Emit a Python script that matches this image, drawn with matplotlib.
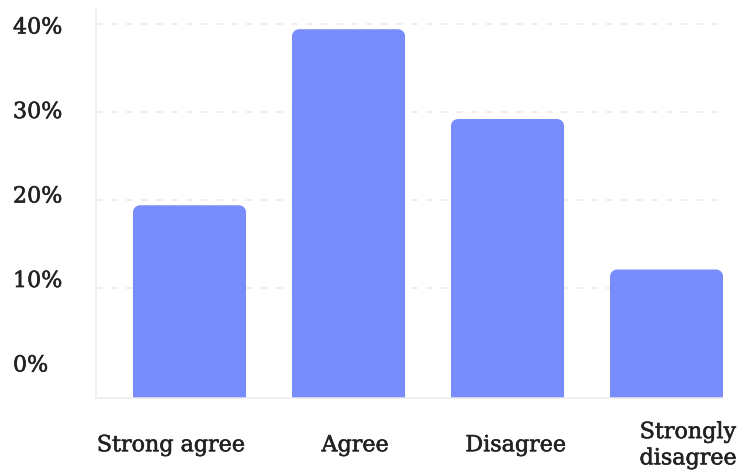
import numpy as np
import matplotlib.pyplot as plt
import matplotlib.transforms as mtransforms
import matplotlib.patheffects as pe
from matplotlib.path import Path
from matplotlib.patches import PathPatch

# Survey answers (% of respondents)
categories = ["Strong agree", "Agree", "Disagree", "Strongly\ndisagree"]
shares = [19.4, 39.4, 29.2, 12.1]

grid_ticks = [10, 20, 30, 40]
label_ticks = [0, 10, 20, 30, 40]
label_text = ["0%", "10%", "20%", "30%", "40%"]

bar_color = "#788cfb"
text_color = "#222222"
line_color = "#ececec"

plt.rcParams['font.family'] = ['DejaVu Serif']

fig = plt.figure(figsize=(7.42, 4.72), dpi=100)
ax = fig.add_axes([96 / 742, 1 - 398 / 472, (723 - 96) / 742, (398 - 9) / 472])

x = np.arange(len(categories))
ymin = -2.5
ax.set_xlim(-0.588, 3.355)
ax.set_ylim(ymin, 41.7)

bars = ax.bar(x, np.array(shares) - ymin, bottom=ymin, width=0.711, color=bar_color)

# round the top corners of each bar (radius in pixels)
radius = 7
rx = radius * (ax.get_xlim()[1] - ax.get_xlim()[0]) / ax.bbox.width
ry = radius * (ax.get_ylim()[1] - ax.get_ylim()[0]) / ax.bbox.height
k = 0.5523
for b in bars:
    x0, y0 = b.get_x(), b.get_y()
    x1, y1 = x0 + b.get_width(), y0 + b.get_height()
    verts = [
        (x0, y0), (x0, y1 - ry),
        (x0, y1 - ry + k * ry), (x0 + rx - k * rx, y1), (x0 + rx, y1),
        (x1 - rx, y1),
        (x1 - rx + k * rx, y1), (x1, y1 - ry + k * ry), (x1, y1 - ry),
        (x1, y0), (x0, y0),
    ]
    codes = [Path.MOVETO, Path.LINETO,
             Path.CURVE4, Path.CURVE4, Path.CURVE4,
             Path.LINETO,
             Path.CURVE4, Path.CURVE4, Path.CURVE4,
             Path.LINETO, Path.CLOSEPOLY]
    b.remove()
    ax.add_patch(PathPatch(Path(verts, codes), facecolor=bar_color, edgecolor='none', zorder=2))

# dashed grid
ax.set_yticks(grid_ticks)
ax.yaxis.grid(True, linestyle=(0, (4, 5)), color='#ebebeb', linewidth=1.2)
ax.set_axisbelow(True)

for side in ['top', 'right']:
    ax.spines[side].set_visible(False)
for side in ['left', 'bottom']:
    ax.spines[side].set_color(line_color)
    ax.spines[side].set_linewidth(1.1)

# slightly thicker text strokes
heavy = [pe.withStroke(linewidth=0.4, foreground=text_color)]

# category labels
ax.set_xticks(x, categories)
ax.tick_params(axis='x', length=0, pad=34, labelsize=16, labelcolor=text_color)
shifts = [-13.3, 4.7, 5.8, 15.5]
for lbl, dx in zip(ax.get_xticklabels(), shifts):
    lbl.set_va('center')
    lbl.set_linespacing(1.25)
    lbl.set_path_effects(heavy)
    lbl.set_transform(lbl.get_transform() + mtransforms.ScaledTranslation(dx / 72, 0, fig.dpi_scale_trans))

# percentage labels on their own scale
ax2 = ax.twinx()
ax2.set_ylim(-4.14, 41.9)
ax2.set_yticks(label_ticks, label_text)
ax2.yaxis.tick_left()
ax2.tick_params(axis='y', length=0, pad=59.8, labelsize=16, labelcolor=text_color)
for lbl in ax2.get_yticklabels():
    lbl.set_ha('left')
    lbl.set_path_effects(heavy)
for s in ax2.spines.values():
    s.set_visible(False)

# twinx turns the left ticks back on for ax
ax.tick_params(axis='y', left=False, right=False, labelleft=False, labelright=False)

fig.savefig("out.png", dpi=100)
